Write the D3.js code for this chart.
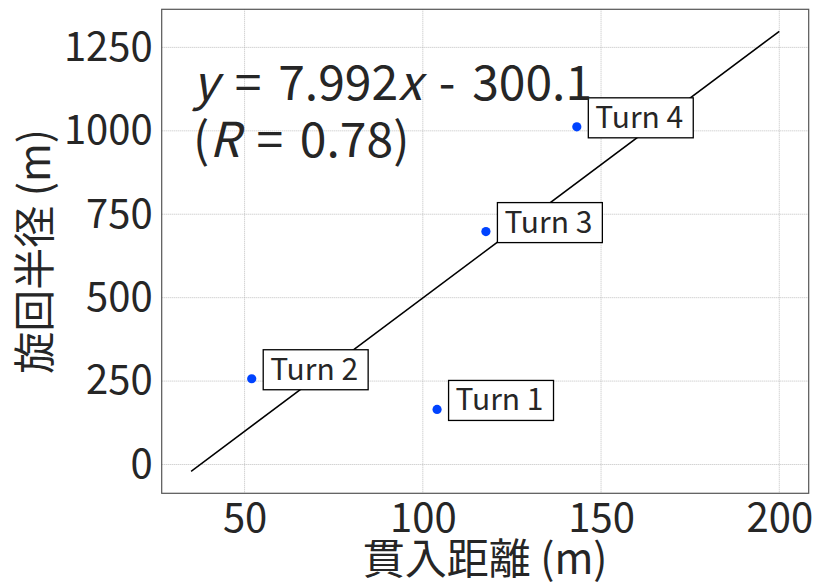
<!DOCTYPE html>
<html>
<head>
<meta charset="utf-8">
<script src="https://cdn.jsdelivr.net/npm/d3@7"></script>
<style>
  html, body { margin: 0; padding: 0; background: #fff; }
  svg { display: block; font-family: "Noto Sans CJK JP", "Noto Sans", sans-serif; }
</style>
</head>
<body>
<svg id="chart" width="816" height="583"></svg>
<script>
// Penetration distance vs. turning radius for four turns
const labels = ["Turn 1", "Turn 2", "Turn 3", "Turn 4"];
const distance = [104.0, 52.0, 117.7, 143.2];      // 貫入距離 (m)
const radius = [165, 257, 698, 1012];               // 旋回半径 (m)
const xTicks = [50, 100, 150, 200];
const yTicks = [0, 250, 500, 750, 1000, 1250];
const fitSlope = 7.992, fitIntercept = -300.1, fitR = 0.78;
const fitRange = [35, 200];

const svg = d3.select("#chart");
const plotLeft = 161.7, plotRight = 808.7, plotTop = 9.3, plotBottom = 493.3;

const x = d3.scaleLinear().domain([26.75, 208.25]).range([plotLeft, plotRight]);
const y = d3.scaleLinear().domain([-86.3, 1364.2]).range([plotBottom, plotTop]);

// grid
const grid = svg.append("g");
grid.selectAll("line.vx").data(xTicks).join("line")
  .attr("x1", d => x(d)).attr("x2", d => x(d))
  .attr("y1", plotTop).attr("y2", plotBottom)
  .attr("stroke", "#b0b0b0").attr("stroke-width", 0.8).attr("stroke-dasharray", "1,1");
grid.selectAll("line.hy").data(yTicks).join("line")
  .attr("y1", d => y(d)).attr("y2", d => y(d))
  .attr("x1", plotLeft).attr("x2", plotRight)
  .attr("stroke", "#b0b0b0").attr("stroke-width", 0.8).attr("stroke-dasharray", "1,1");

// axes (labels only, no tick marks)
const xAxis = svg.append("g").attr("transform", `translate(0,${plotBottom})`)
  .call(d3.axisBottom(x).tickValues(xTicks).tickFormat(d3.format("d")).tickSize(0).tickPadding(10));
const yAxis = svg.append("g").attr("transform", `translate(${plotLeft},0)`)
  .call(d3.axisLeft(y).tickValues(yTicks).tickFormat(d3.format("d")).tickSize(0).tickPadding(9));
[xAxis, yAxis].forEach(a => {
  a.select(".domain").remove();
  a.selectAll("text").attr("font-size", 40).attr("fill", "#262626")
    .attr("font-family", "'Noto Sans CJK JP', sans-serif");
});
xAxis.selectAll("text").attr("dy", "0.71em");

// regression line
svg.append("line")
  .attr("x1", x(fitRange[0])).attr("y1", y(fitSlope * fitRange[0] + fitIntercept))
  .attr("x2", x(fitRange[1])).attr("y2", y(fitSlope * fitRange[1] + fitIntercept))
  .attr("stroke", "#000").attr("stroke-width", 1.5);

// points
svg.selectAll("circle.pt").data(distance).join("circle")
  .attr("cx", d => x(d)).attr("cy", (d, i) => y(radius[i]))
  .attr("r", 4.6).attr("fill", "#0043ff");

// labelled boxes
labels.forEach((lab, i) => {
  const px = x(distance[i]), py = y(radius[i]);
  const g = svg.append("g").attr("transform", `translate(${px + 11.5},${py - 29})`);
  const rect = g.append("rect").attr("fill", "#fff").attr("stroke", "#000").attr("stroke-width", 1.3);
  const t = g.append("text").attr("x", 7).attr("y", 30)
    .attr("font-size", 30).attr("fill", "#262626").text(lab);
  const w = t.node().getComputedTextLength();
  rect.attr("width", w + 17).attr("height", 40);
});

// fit equation
const eq = svg.append("g").attr("fill", "#262626").attr("font-size", 48)
  .attr("word-spacing", 6)
  .attr("font-family", "'Noto Sans CJK JP', sans-serif");
const l1 = eq.append("text").attr("x", 193).attr("y", 100);
l1.append("tspan").attr("font-style", "italic").text("y");
l1.append("tspan").text(` = ${fitSlope}`);
l1.append("tspan").attr("font-style", "italic").text("x");
l1.append("tspan").text(` - ${Math.abs(fitIntercept)}`);
const l2 = eq.append("text").attr("x", 193).attr("y", 157);
l2.append("tspan").text("(");
l2.append("tspan").attr("font-style", "italic").text("R");
l2.append("tspan").text(` = ${fitR})`);

// frame
svg.append("rect").attr("x", plotLeft).attr("y", plotTop)
  .attr("width", plotRight - plotLeft).attr("height", plotBottom - plotTop)
  .attr("fill", "none").attr("stroke", "#555").attr("stroke-width", 1.2);

// axis titles
svg.append("text").attr("x", (plotLeft + plotRight) / 2).attr("y", 574)
  .attr("text-anchor", "middle").attr("font-size", 42).attr("fill", "#262626")
  .text("貫入距離 (m)");
svg.append("text")
  .attr("transform", `translate(50,${(plotTop + plotBottom) / 2}) rotate(-90)`)
  .attr("text-anchor", "middle").attr("font-size", 42).attr("fill", "#262626")
  .text("旋回半径 (m)");
</script>
</body>
</html>
